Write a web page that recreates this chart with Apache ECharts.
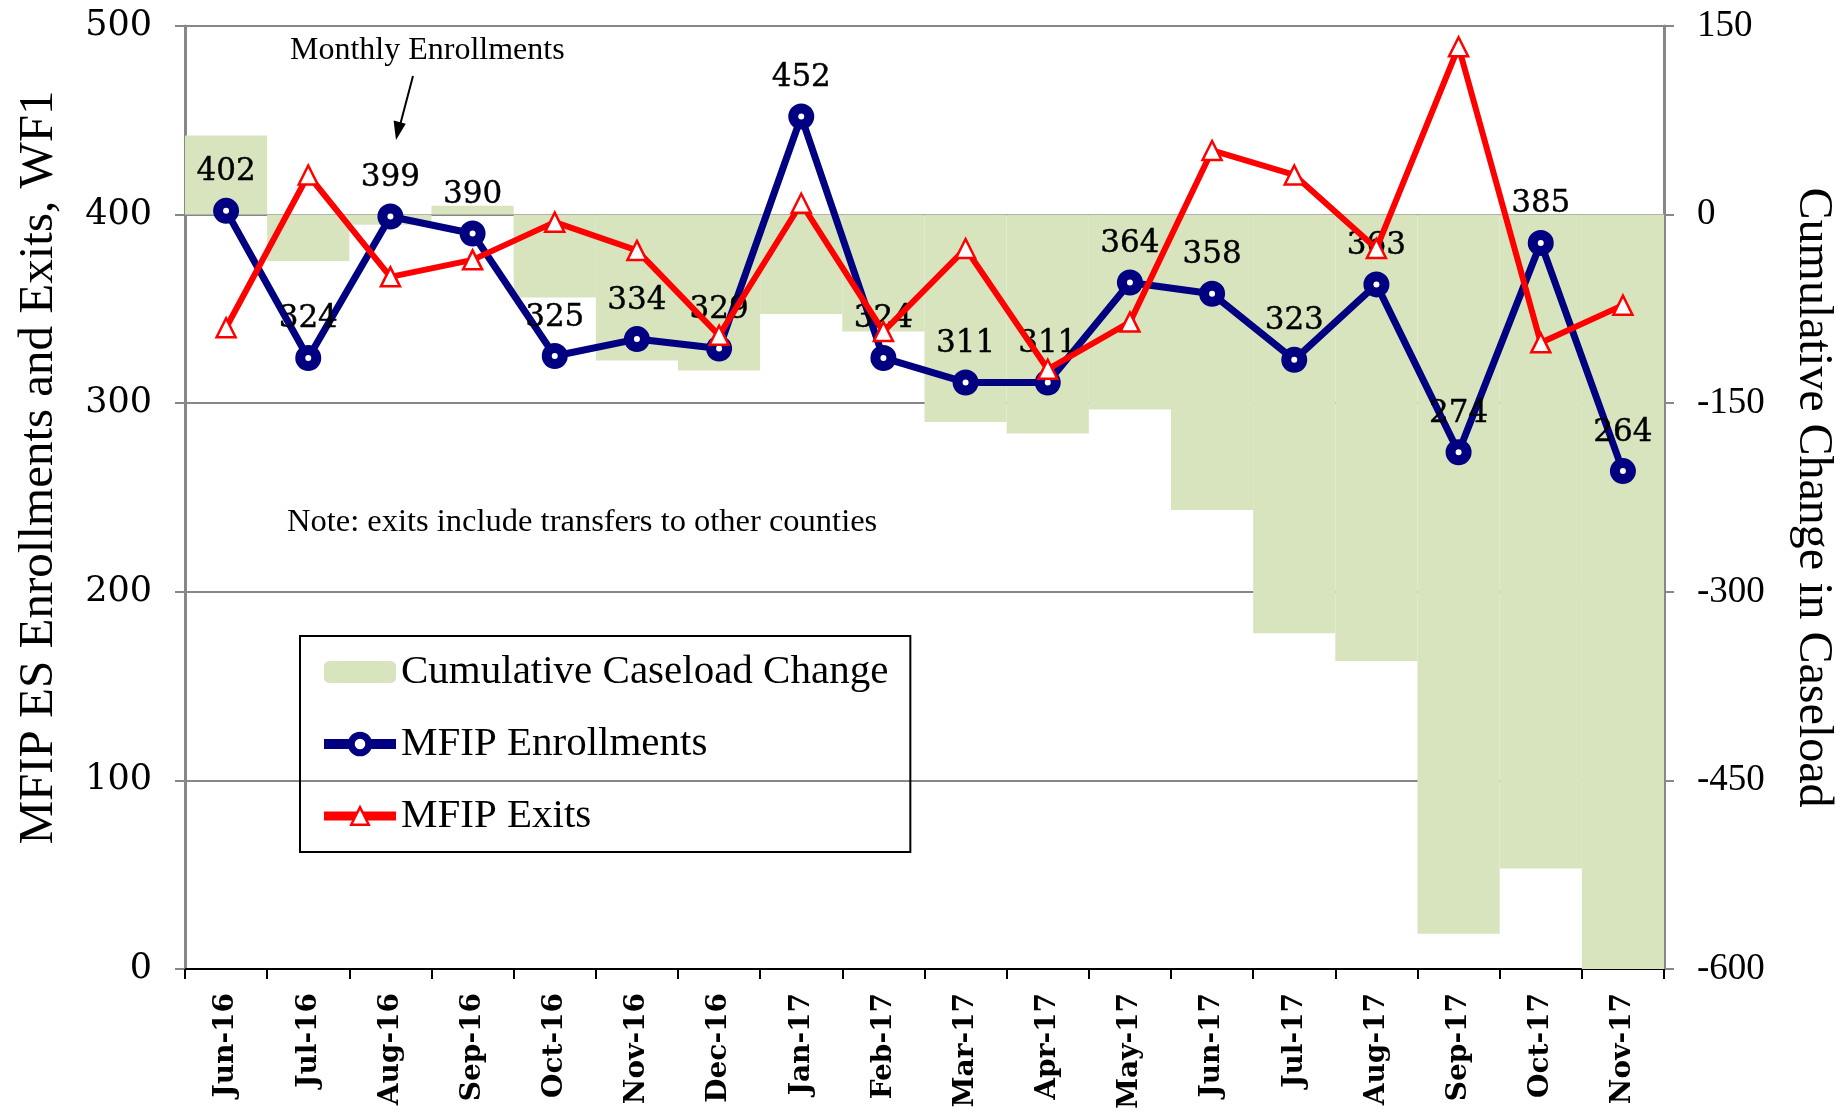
<!DOCTYPE html>
<html>
<head>
<meta charset="utf-8">
<script src="https://cdn.jsdelivr.net/npm/echarts@6/dist/echarts.min.js"></script>
<style>
html,body{margin:0;padding:0;background:#fff;}
#chart{width:1837px;height:1114px;}
</style>
</head>
<body>
<div id="chart"></div>
<script>
var categories = ['Jun-16','Jul-16','Aug-16','Sep-16','Oct-16','Nov-16','Dec-16','Jan-17','Feb-17','Mar-17','Apr-17','May-17','Jun-17','Jul-17','Aug-17','Sep-17','Oct-17','Nov-17'];
var enrollments = [402,324,399,390,325,334,329,452,324,311,311,364,358,323,363,274,385,264];
var exits = [340,421,367,376,396,381,336,406,338,382,318,343,434,421,382,489,332,352];
var cumulativeChange = [63,-37,-8,7,-66,-116,-124,-79,-93,-165,-174,-155,-235,-333,-355,-572,-520,-608];
var leftTicks = {min:0, max:500, interval:100};
var rightTicks = {min:-600, max:150, interval:150};

var serif = 'Liberation Serif';
var century = 'DejaVu Serif';
var gray = '#878787';

var chart = echarts.init(document.getElementById('chart'));
chart.setOption({
  backgroundColor:'#ffffff',
  animation:false,
  grid:{left:185, right:173, top:26, bottom:145, containLabel:false, outerBoundsMode:'none'},
  legend:{
    orient:'vertical', left:300, top:636,
    padding:[14,22,14,19],
    borderColor:'#000', borderWidth:2,
    itemWidth:72, itemHeight:22, itemGap:28,
    textStyle:{fontFamily:serif, fontSize:41, color:'#000', lineHeight:44},
    data:[
      {name:'Cumulative Caseload Change'},
      {name:'MFIP Enrollments', itemStyle:{borderWidth:7}, lineStyle:{width:10}},
      {name:'MFIP Exits', itemStyle:{borderWidth:2.5}, lineStyle:{width:9}}
    ]
  },
  xAxis:{
    type:'category', data:categories, boundaryGap:true,
    axisLine:{show:true, onZero:false, lineStyle:{color:'#000', width:2}},
    axisTick:{show:true, length:10, lineStyle:{color:'#000', width:2}},
    axisLabel:{rotate:90, interval:0, margin:24, fontFamily:century, fontWeight:'bold', fontSize:28, color:'#000'},
    splitLine:{show:false}
  },
  yAxis:[{
    type:'value', min:leftTicks.min, max:leftTicks.max, interval:leftTicks.interval,
    name:'MFIP ES Enrollments and Exits, WF1', nameLocation:'middle', nameGap:121, nameRotate:90,
    nameTextStyle:{fontFamily:serif, fontSize:49, color:'#000', padding:[0,0,0,60]},
    axisLine:{show:true, lineStyle:{color:gray, width:3}},
    axisTick:{show:true, length:10, lineStyle:{color:gray, width:2}},
    axisLabel:{margin:33, fontFamily:century, fontSize:35, color:'#000'},
    splitLine:{show:true, lineStyle:{color:gray, width:2}}
  },{
    type:'value', min:rightTicks.min, max:rightTicks.max, interval:rightTicks.interval, position:'right',
    name:'Cumulative Change in Caseload', nameLocation:'middle', nameGap:125, nameRotate:-90,
    nameTextStyle:{fontFamily:serif, fontSize:48, color:'#000'},
    axisLine:{show:true, lineStyle:{color:gray, width:3}},
    axisTick:{show:true, length:10, lineStyle:{color:gray, width:2}},
    axisLabel:{margin:33, fontFamily:serif, fontSize:37, color:'#000'},
    splitLine:{show:false}
  }],
  series:[{
    name:'Cumulative Caseload Change', type:'bar', yAxisIndex:1,
    data:cumulativeChange, barCategoryGap:'0%', clip:true,
    itemStyle:{color:'#D7E4BD'}, z:1
  },{
    name:'MFIP Enrollments', type:'line', data:enrollments,
    lineStyle:{color:'#000080', width:7},
    symbol:'circle', symbolSize:16,
    itemStyle:{color:'#ffffff', borderColor:'#000080', borderWidth:10},
    label:{show:true, position:'top', distance:10, fontFamily:century, fontSize:31, color:'#000', textBorderColor:'#000', textBorderWidth:0.4},
    z:3
  },{
    name:'MFIP Exits', type:'line', data:exits,
    lineStyle:{color:'#FF0000', width:6},
    symbol:'triangle', symbolSize:19,
    itemStyle:{color:'#ffffff', borderColor:'#FF0000', borderWidth:2.5},
    z:4
  }],
  graphic:[
    {type:'text', left:290, top:35, style:{text:'Monthly Enrollments', fontFamily:serif, fontSize:32, fill:'#000'}},
    {type:'line', shape:{x1:413, y1:76, x2:399.8, y2:126}, style:{stroke:'#000', lineWidth:2}},
    {type:'polygon', shape:{points:[[396,140],[405.8,123.8],[393.6,120.6]]}, style:{fill:'#000'}},
    {type:'text', left:287, top:506, style:{text:'Note: exits include transfers to other counties', fontFamily:serif, fontSize:32.5, fill:'#000'}}
  ]
});
</script>
</body>
</html>
